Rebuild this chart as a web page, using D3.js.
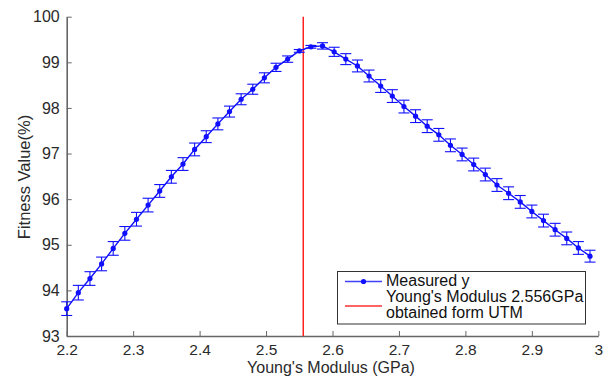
<!DOCTYPE html>
<html><head><meta charset="utf-8">
<script src="https://cdn.jsdelivr.net/npm/d3@7/dist/d3.min.js"></script>
<style>body{margin:0;background:#fff;}svg{display:block;font-family:"Liberation Sans",Arial,Helvetica,sans-serif;}</style>
</head><body>
<svg id="c" width="612" height="378"></svg>
<script>
const modulus = [2.2,2.2175,2.235,2.2525,2.27,2.2875,2.305,2.3225,2.34,2.3575,2.375,2.3925,2.41,2.4275,2.445,2.4625,2.48,2.4975,2.515,2.5325,2.55,2.5675,2.585,2.6025,2.62,2.6375,2.655,2.6725,2.69,2.7075,2.725,2.7425,2.76,2.7775,2.795,2.8125,2.83,2.8475,2.865,2.8825,2.9,2.9175,2.935,2.9525,2.97,2.9875];
const fitness = [93.60,93.95,94.26,94.58,94.92,95.25,95.56,95.87,96.18,96.49,96.77,97.09,97.37,97.65,97.92,98.19,98.41,98.66,98.89,99.07,99.25,99.34,99.36,99.23,99.07,98.92,98.70,98.48,98.26,98.03,97.82,97.60,97.41,97.18,96.98,96.76,96.54,96.31,96.13,95.94,95.73,95.53,95.33,95.14,94.93,94.75];
const errors = [0.15,0.16,0.15,0.15,0.15,0.15,0.15,0.15,0.14,0.14,0.14,0.14,0.13,0.13,0.12,0.12,0.11,0.11,0.09,0.07,0.03,0.03,0.07,0.10,0.12,0.13,0.13,0.14,0.14,0.14,0.14,0.14,0.14,0.14,0.14,0.14,0.14,0.14,0.14,0.14,0.14,0.14,0.14,0.14,0.14,0.13];
const xTicks = [2.2,2.3,2.4,2.5,2.6,2.7,2.8,2.9,3];
const yTicks = [93,94,95,96,97,98,99,100];
const utmModulus = 2.556;
const legendLabels = ["Measured y", "Young's Modulus 2.556GPa", "obtained form UTM"];

const svg = d3.select("#c");
const x = d3.scaleLinear().domain([2.2,3]).range([66.7,598.3]);
const y = d3.scaleLinear().domain([93,100]).range([336,16.7]);
const axisColor = "#666", textColor = "#2a2a2a";

// axes
const xa = svg.append("g").attr("transform","translate(0,336)")
  .call(d3.axisBottom(x).tickValues(xTicks).tickSizeInner(-5).tickSizeOuter(0).tickPadding(8).tickFormat(d=>d3.format("")(d)));
const ya = svg.append("g").attr("transform","translate(66.7,0)")
  .call(d3.axisLeft(y).tickValues(yTicks).tickSizeInner(-5).tickSizeOuter(0).tickPadding(7).tickFormat(d3.format("d")));
[xa,ya].forEach(a=>{
  a.select(".domain").attr("stroke",axisColor).attr("stroke-width",1.6);
  a.selectAll(".tick line").attr("stroke",axisColor).attr("stroke-width",1);
  a.selectAll(".tick text").attr("fill",textColor).style("font-size","16px").style("font-family","'Liberation Sans',Arial,sans-serif");
});
xa.selectAll(".tick text").attr("dy","0.71em").style("font-size","15.5px");

// axis labels
svg.append("text").attr("x",331).attr("y",373).attr("text-anchor","middle")
  .attr("fill",textColor).style("font-size","16px").text("Young's Modulus (GPa)");
svg.append("text").attr("transform","translate(30,177) rotate(-90)").attr("text-anchor","middle")
  .attr("fill",textColor).style("font-size","16.5px").text("Fitness Value(%)");

// red line
svg.append("line").attr("x1",x(utmModulus)).attr("x2",x(utmModulus)).attr("y1",y(100)).attr("y2",y(93))
  .attr("stroke","#ff2020").attr("stroke-width",1.5);

const data = modulus.map((m,i)=>({m, f:fitness[i], e:errors[i]}));
const blue = "#1010ff";
// error bars
const eb = svg.append("g").attr("stroke",blue).attr("stroke-width",1.1).attr("fill","none");
data.forEach(d=>{
  const cx = x(d.m), t = y(d.f+d.e), b = y(d.f-d.e), w = 5.5;
  eb.append("line").attr("x1",cx).attr("x2",cx).attr("y1",t).attr("y2",b);
  eb.append("line").attr("x1",cx-w).attr("x2",cx+w).attr("y1",t).attr("y2",t);
  eb.append("line").attr("x1",cx-w).attr("x2",cx+w).attr("y1",b).attr("y2",b);
});
// line
svg.append("path").datum(data).attr("fill","none").attr("stroke",blue).attr("stroke-width",1.4)
  .attr("d",d3.line().x(d=>x(d.m)).y(d=>y(d.f)));
svg.append("g").selectAll("circle").data(data).join("circle")
  .attr("cx",d=>x(d.m)).attr("cy",d=>y(d.f)).attr("r",2.6).attr("fill",blue);

// legend
const lg = svg.append("g");
lg.append("rect").attr("x",337.5).attr("y",271.5).attr("width",248).attr("height",52.5)
  .attr("fill","#fff").attr("stroke","#333").attr("stroke-width",1);
lg.append("line").attr("x1",345).attr("x2",382).attr("y1",281.5).attr("y2",281.5).attr("stroke","#4040ff").attr("stroke-width",1.4);
lg.append("circle").attr("cx",363.5).attr("cy",281.5).attr("r",2.6).attr("fill",blue);
lg.append("line").attr("x1",345).attr("x2",382).attr("y1",306).attr("y2",306).attr("stroke","#ff3030").attr("stroke-width",1.5);
legendLabels.forEach((t,i)=>{
  lg.append("text").attr("x",386).attr("y",286+i*16).attr("fill","#111").style("font-size","16px").text(t);
});
</script>
</body></html>
